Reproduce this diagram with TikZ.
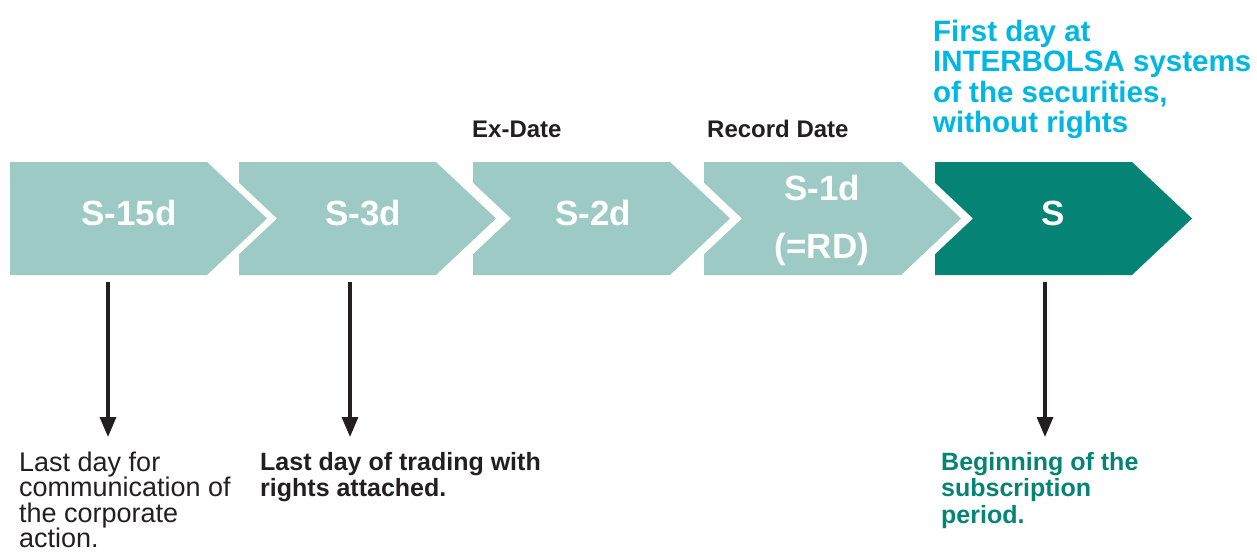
\documentclass[tikz,border=0pt]{standalone}
\usepackage{fontspec}
\setmainfont{Liberation Sans}
\usepackage{xcolor}
\usetikzlibrary{arrows.meta, positioning}

\definecolor{paleteal}{HTML}{9ECAC5}
\definecolor{darkteal}{HTML}{058375}
\definecolor{skyblue}{HTML}{00B6E2}
\definecolor{inkblack}{HTML}{231F20}

\tikzset{
  daytext/.style={anchor=base, inner sep=0pt, text=white, font=\bfseries\fontsize{35}{42}\selectfont},
  toplabel/.style={anchor=base west, inner sep=0pt, text=inkblack, font=\bfseries\fontsize{24}{28}\selectfont},
  note/.style={anchor=north west, inner sep=0pt, align=left, text=inkblack, font=\fontsize{27}{25.5}\selectfont},
  boldnote/.style={note, font=\bfseries\fontsize{25}{26.5}\selectfont},
  pointer/.style={-{Triangle[length=20pt, width=16pt]}, line width=3.3pt, draw=inkblack, fill=inkblack},
}

\begin{document}
\begin{tikzpicture}[x=1pt, y=-1pt]
\useasboundingbox (0,0) rectangle (1257,551);

% chevrons
\fill[paleteal] (10,162) -- (207,162) -- (267,218.5) -- (207,275) -- (10,275) -- cycle;
\foreach \l/\c in {239/paleteal, 473/paleteal, 704/paleteal, 935/darkteal} {
    \fill[\c] (\l,162) -- (\l+197,162) -- (\l+257,218.5) -- (\l+197,275) -- (\l,275)
        -- (\l,254.3) -- (\l+38,218.5) -- (\l,182.7) -- cycle;
}

% days
\node[daytext] (s15) at (129,225) {S-15d};
\node[daytext] (s3) at (363,225) {S-3d};
\node[daytext] (s2) at (593,225) {S-2d};
\node[daytext] (s1) at (822,200) {S-1d};
\node[daytext] (rd) at (822,258) {(=RD)};
\node[daytext] (s) at (1053,225) {S};

% labels above
\node[toplabel] (exdate) at (472,137) {Ex-Date};
\node[toplabel] (recdate) at (707,137) {Record Date};
\node[note, text=skyblue, font=\bfseries\fontsize{29.5}{30.5}\selectfont] (firstday) at (933,19.5)
    {First day at\\INTERBOLSA systems\\of the securities,\\without rights};

% notes below
\node[note] (lastcomm) at (19,451.5) {Last day for\\communication of\\the corporate\\action.};
\node[boldnote] (lasttrade) at (260,452) {Last day of trading with\\rights attached.};
\node[boldnote, text=darkteal] (subscr) at (941,452) {Beginning of the\\subscription\\period.};

% arrows
\foreach \x/\n in {108/1, 350/2, 1045/5} {
    \coordinate (top\n) at (\x,282);
    \coordinate (tip\n) at (\x,437);
    \draw[pointer] (top\n) -- (tip\n);
}
\end{tikzpicture}
\end{document}
